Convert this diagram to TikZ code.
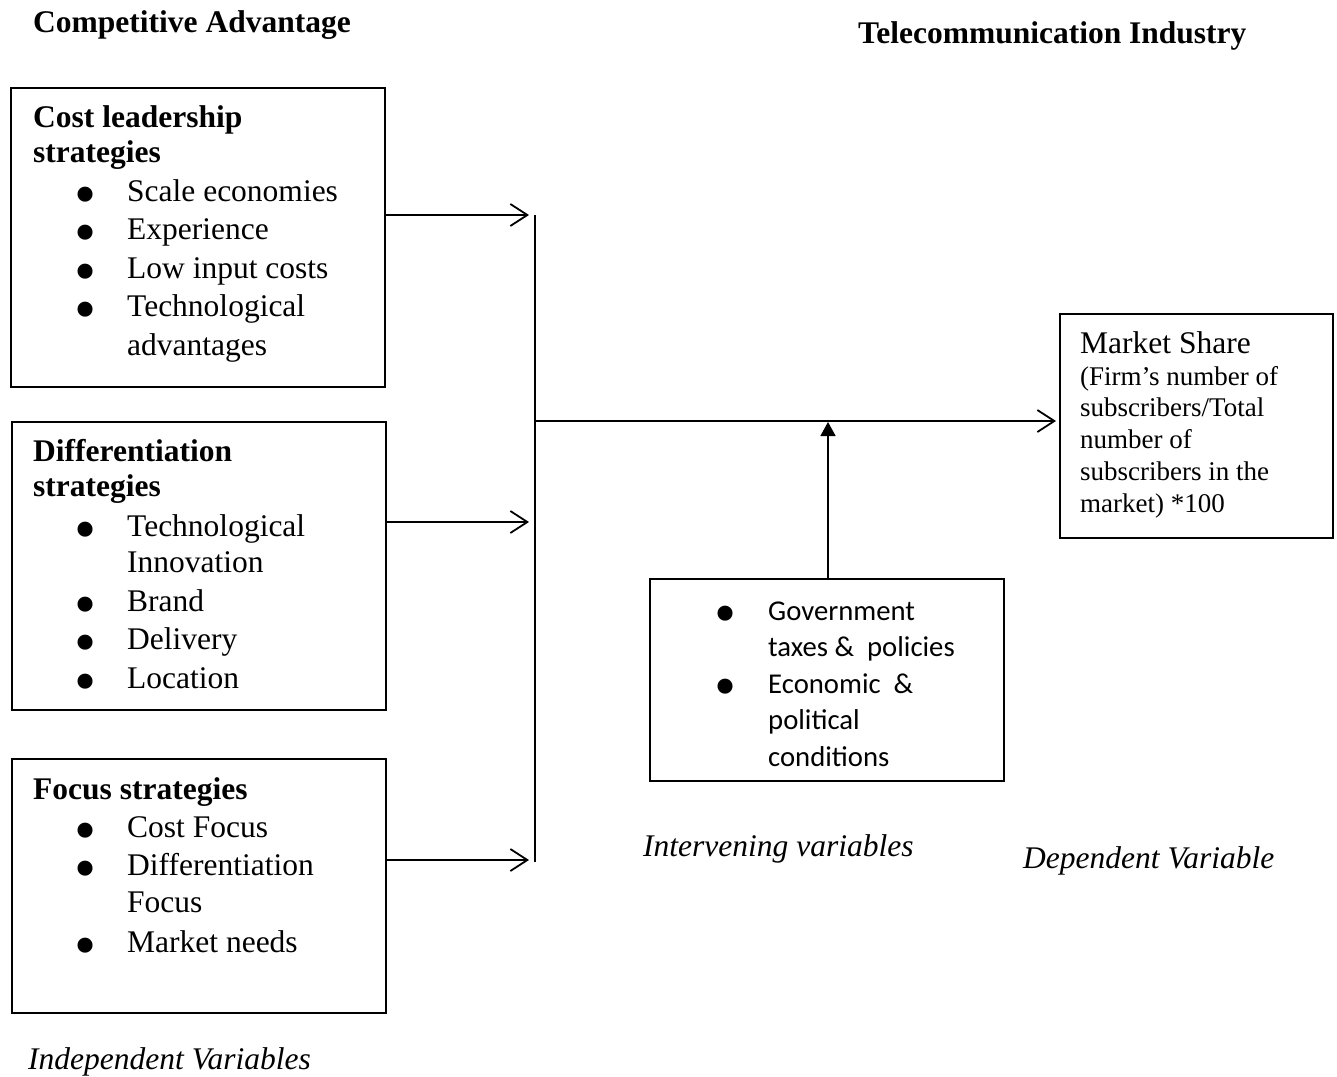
\documentclass[tikz,border=0pt]{standalone}
\usepackage{fontspec}
\usepackage{graphicx}
\setmainfont{Liberation Serif}
\newfontfamily\calibrifont{Carlito}
\usetikzlibrary{arrows.meta}
\newcommand\bigbul{\makebox[0pt]{\raisebox{-14pt}{\scalebox{2}{\fontspec{Liberation Serif}\fontsize{31.5}{31.5}\selectfont\textbullet}}}}
\newcommand\itm[1]{\hspace*{52pt}\bigbul\hspace*{42pt}#1}
\newcommand\cnt[1]{\hspace*{94pt}#1}
\newcommand\citm[1]{\bigbul\hspace*{43pt}#1}
\newcommand\ccnt[1]{\hspace*{43pt}#1}
\begin{document}
\begin{tikzpicture}[x=1pt,y=-1pt,
  box/.style={draw,line width=1.6pt,rectangle,inner sep=0pt,anchor=north west},
  txt/.style={inner sep=0pt,anchor=base west,align=left,font=\fontsize{31.5}{38.5}\selectfont},
  ctxt/.style={inner sep=0pt,anchor=base west,align=left,font=\calibrifont\fontsize{28.7}{36.5}\selectfont},
  sub/.style={inner sep=0pt,anchor=base west,align=left,font=\fontsize{27}{31.7}\selectfont},
  arr/.style={line width=1.6pt,-{Straight Barb[length=17pt,width=22pt,line width=1.8pt]}},
  uparr/.style={line width=1.6pt,-{Triangle[length=14pt,width=15pt]}},
  ln/.style={line width=1.6pt}]
\useasboundingbox (0,0) rectangle (1337,1076);

% headings
\node[txt,font=\bfseries\fontsize{31.5}{38.5}\selectfont] (h1) at (33,32) {Competitive Advantage};
\node[txt,font=\bfseries\fontsize{31.5}{38.5}\selectfont] (h2) at (858,43) {Telecommunication Industry};

% boxes
\node[box,minimum width=374pt,minimum height=299pt] (b1) at (10,87) {};
\node[box,minimum width=374pt,minimum height=288pt] (b2) at (11,421) {};
\node[box,minimum width=374pt,minimum height=254pt] (b3) at (11,758) {};
\node[box,minimum width=273pt,minimum height=224pt] (ms) at (1059,313) {};
\node[box,minimum width=354pt,minimum height=202pt] (iv) at (649,578) {};

% box texts (anchored at the baseline of their last line)
\node[txt] (t1) at (33,355) {\textbf{Cost leadership}\\[-3.5pt]
  \textbf{strategies}\\[0.5pt]
  \itm{Scale economies}\\
  \itm{Experience}\\
  \itm{Low input costs}\\
  \itm{Technological}\\
  \cnt{advantages}};
\node[txt] (t2) at (33,688) {\textbf{Differentiation}\\[-3pt]
  \textbf{strategies}\\[1pt]
  \itm{Technological}\\[-2pt]
  \cnt{Innovation}\\
  \itm{Brand}\\
  \itm{Delivery}\\
  \itm{Location}};
\node[txt] (t3) at (33,952) {\textbf{Focus strategies}\\[-1pt]
  \itm{Cost Focus}\\
  \itm{Differentiation}\\[-2pt]
  \cnt{Focus}\\[1.5pt]
  \itm{Market needs}};
\node[ctxt] (t4) at (725,766) {\citm{Government}\\
  \ccnt{taxes \&\ \ policies}\\
  \citm{Economic\ \ \&}\\
  \ccnt{political}\\
  \ccnt{conditions}};
\node[txt] (t5) at (1080,353) {Market Share};
\node[sub] (t6) at (1080,512) {(Firm’s number of\\
  subscribers/Total\\
  number of\\
  subscribers in the\\
  market) *100};

% italic labels
\node[txt,font=\itshape\fontsize{31.5}{38.5}\selectfont] (l1) at (643,856) {Intervening variables};
\node[txt,font=\itshape\fontsize{31.5}{38.5}\selectfont] (l2) at (1023,868) {Dependent Variable};
\node[txt,font=\itshape\fontsize{31.5}{38.5}\selectfont] (l3) at (28,1069) {Independent Variables};

% connectors
\coordinate (vtop) at (535,215);
\coordinate (vbot) at (535,862);
\coordinate (vmid) at (535,421);
\coordinate (a1) at (529,215);
\coordinate (a2) at (529,522);
\coordinate (a3) at (529,860);
\draw[ln] (vtop) -- (vbot);
\draw[arr] (b1.east |- a1) -- (a1);
\draw[arr] (b2.east |- a2) -- (a2);
\draw[arr] (b3.east |- a3) -- (a3);
\draw[arr,shorten >=3pt] (vmid) -- (ms.west |- vmid);
\draw[uparr] (iv.north -| 828,0) -- (828,422);
\end{tikzpicture}
\end{document}
